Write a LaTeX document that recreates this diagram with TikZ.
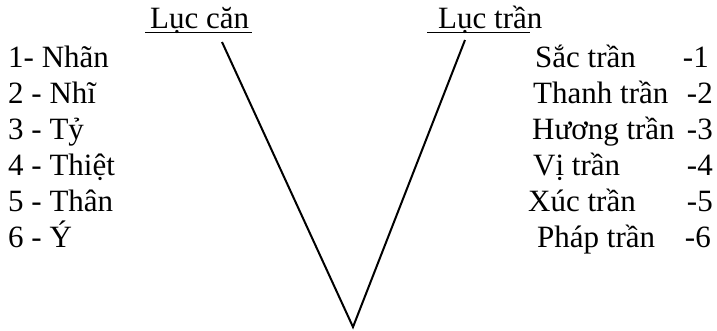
\documentclass[tikz,border=0pt]{standalone}
\usepackage{fontspec}
\setmainfont{Liberation Serif}

\tikzset{
  item/.style={anchor=base west, inner sep=0pt, font=\fontsize{31}{36}\selectfont},
  num/.style={item, anchor=base east},
  vline/.style={line width=2pt}
}

\begin{document}
\begin{tikzpicture}[x=1pt, y=-1pt]
\useasboundingbox (0,0) rectangle (717,330);

% Parameters
\def\lx{8}     % left list x
\def\nx{713}   % right edge of the numbers

% Headings
\node[item] (lucCan) at (150,28) {Lục căn};
\node[item] (lucTran) at (438,28) {Lục trần};
\coordinate (ulA) at (145,32.5);
\coordinate (ulB) at (252,32.5);
\coordinate (ulC) at (427,32.5);
\coordinate (ulD) at (530,32.5);
\draw[line width=1.2pt] (ulA) -- (ulB);
\draw[line width=1.2pt] (ulC) -- (ulD);

% Left list
\node[item] (can1) at (\lx,67) {1- Nhãn};
\node[item] (can2) at (\lx,103) {2 - Nhĩ};
\node[item] (can3) at (\lx,139) {3 - Tỷ};
\node[item] (can4) at (\lx,175) {4 - Thiệt};
\node[item] (can5) at (\lx,211) {5 - Thân};
\node[item] (can6) at (\lx,247) {6 - Ý};

% Right list
\node[item] (tran1) at (535,67) {Sắc trần};
\node[item] (tran2) at (533,103) {Thanh trần};
\node[item] (tran3) at (532,139) {Hương trần};
\node[item] (tran4) at (533,175) {Vị trần};
\node[item] (tran5) at (528,211) {Xúc trần};
\node[item] (tran6) at (537,247) {Pháp trần};
\node[num] (num1) at (709,67) {-1};
\node[num] (num2) at (\nx,103) {-2};
\node[num] (num3) at (\nx,139) {-3};
\node[num] (num4) at (\nx,175) {-4};
\node[num] (num5) at (\nx,211) {-5};
\node[num] (num6) at (711,247) {-6};

% The V
\coordinate (canTop) at (222,42);
\coordinate (tranTop) at (465,40);
\coordinate (vBot) at (353,327);
\draw[vline] (canTop) -- (vBot) -- (tranTop);

\end{tikzpicture}
\end{document}
